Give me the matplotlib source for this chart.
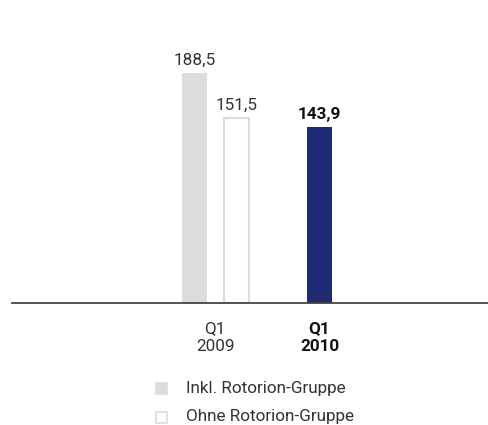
import matplotlib.pyplot as plt
from matplotlib.patches import Rectangle

plt.rcParams['font.family'] = ['Roboto', 'DejaVu Sans']

quarters = ['Q1\n2009', 'Q1\n2010']
inkl_rotorion = [188.5, 143.9]
ohne_rotorion = [151.5]
value_labels_2009 = ['188,5', '151,5']
value_label_2010 = '143,9'
legend_labels = ['Inkl. Rotorion-Gruppe', 'Ohne Rotorion-Gruppe']

gray = '#dcdcda'
navy = '#1f2a74'
W, H = 488, 425
fs = 12.3

fig = plt.figure(figsize=(W / 100, H / 100), dpi=100)
base = 302.6
top = 30
ax = fig.add_axes([12 / W, (H - base) / H, (W - 12) / W, (base - top) / H])

px_per_unit = 1.22
ax.set_ylim(0, (base - top) / px_per_unit)
ax.set_xlim(-1.95, 2.616)

bw = 0.24
off = 0.2
# Q1 2009: with and without Rotorion
ax.bar(0 - off, inkl_rotorion[0], width=bw, color=gray, linewidth=0)
ax.bar(0 + off, ohne_rotorion[0], width=bw, color='white', edgecolor=gray, linewidth=1.5)
# Q1 2010
ax.bar(1, inkl_rotorion[1], width=bw, color=navy, linewidth=0)

ax.text(0 - off, inkl_rotorion[0] + 4, value_labels_2009[0], ha='center', va='bottom',
        fontsize=fs, color='#333333')
ax.text(0 + off, ohne_rotorion[0] + 4, value_labels_2009[1], ha='center', va='bottom',
        fontsize=fs, color='#333333')
ax.text(1, inkl_rotorion[1] + 4, value_label_2010, ha='center', va='bottom',
        fontsize=fs, color='#111111', fontweight='bold')

for s in ['top', 'right', 'left']:
    ax.spines[s].set_visible(False)
ax.spines['bottom'].set_color('#444444')
ax.spines['bottom'].set_linewidth(1.3)
ax.set_yticks([])
ax.set_xticks([0, 1])
ax.set_xticklabels(quarters, fontsize=fs, color='#333333', linespacing=1.3)
ax.tick_params(axis='x', length=0, pad=13)
ax.get_xticklabels()[1].set_fontweight('bold')
ax.get_xticklabels()[1].set_color('#111111')

# legend, drawn by hand
rows = [(388, gray, gray), (417, 'white', gray)]
for (yc, fc, ec), label in zip(rows, legend_labels):
    fig.add_artist(Rectangle(((156) / W, (H - yc - 5.5) / H), 11 / W, 11 / H,
                             transform=fig.transFigure, facecolor=fc, edgecolor=ec,
                             linewidth=1.2))
    fig.text(186 / W, (H - yc) / H, label, ha='left', va='center',
             fontsize=fs, color='#333333')

fig.savefig('out.png', dpi=100)
